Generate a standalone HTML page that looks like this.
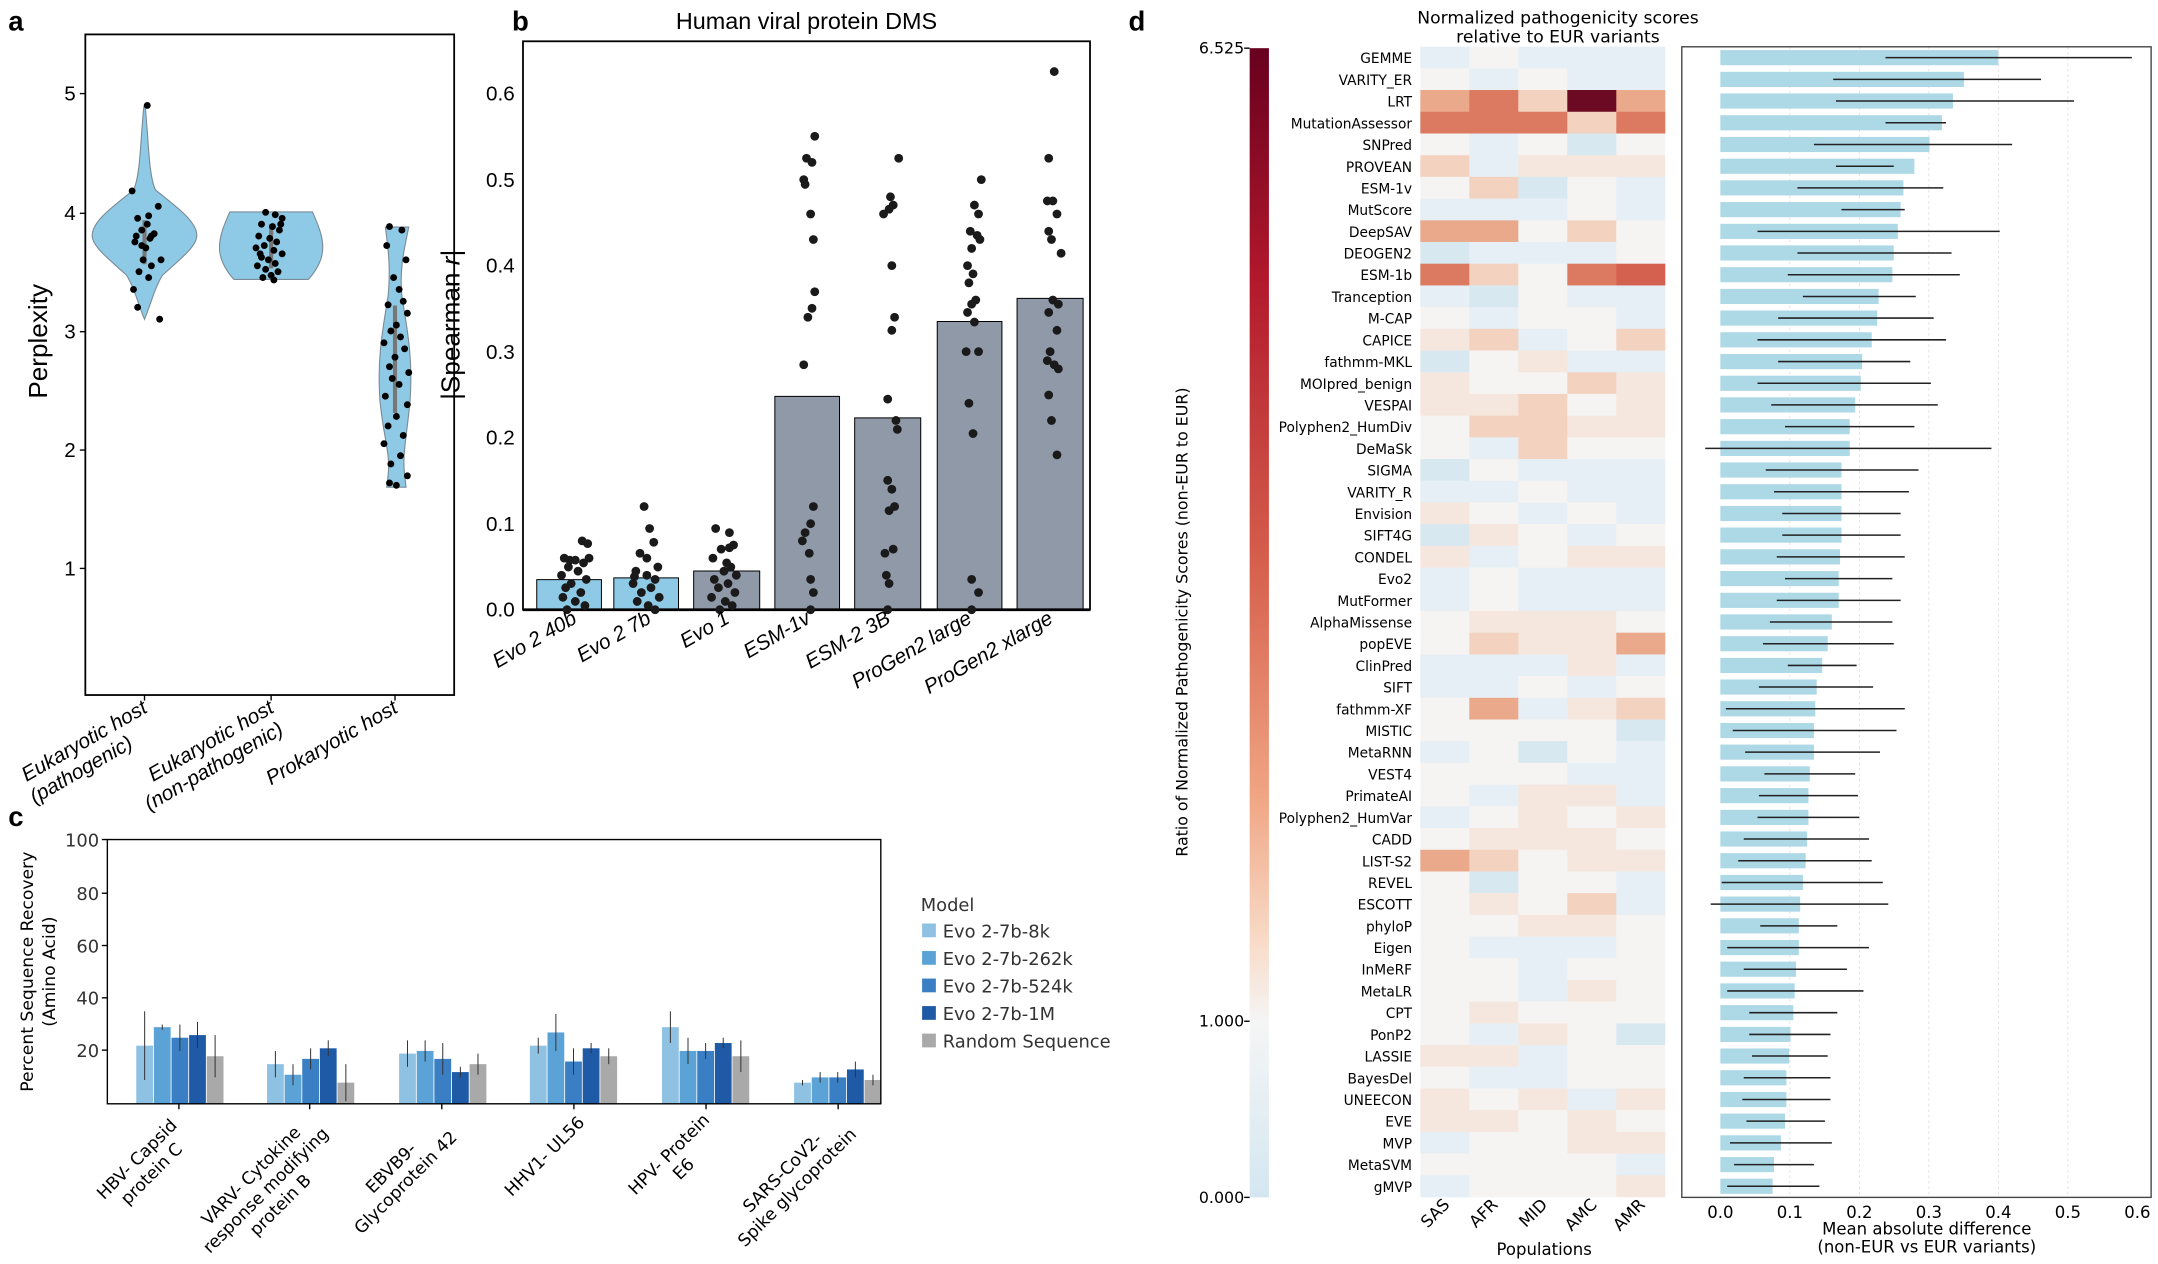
<!DOCTYPE html>
<html><head><meta charset="utf-8"><style>
html,body{margin:0;padding:0;background:#fff}
svg{display:block}
.nar{font-family:"Liberation Sans Narrow","Liberation Sans",sans-serif}
.dv{font-family:"DejaVu Sans","Liberation Sans",sans-serif}
.W{fill:#f6f4f3}.b1{fill:#e6eff5}.b2{fill:#d8e8f1}.o1{fill:#f6e7de}.o2{fill:#f3d2c0}.o3{fill:#eaa98b}.o4{fill:#db7a61}.R{fill:#6b0a22}.X{fill:#d4604f}
.hl text{font-size:10px;text-anchor:end}
.bar{fill:#add8e6}
.eb{stroke:#222;stroke-width:1.1}
</style></head><body>
<svg width="2158" height="1264" viewBox="0 0 1568 918.4" preserveAspectRatio="none" xmlns="http://www.w3.org/2000/svg">
<rect width="1568" height="918.4" fill="#fff"/>
<g font-family="Liberation Sans,sans-serif" font-weight="bold" font-size="20">
<text x="6" y="22">a</text><text x="372" y="22">b</text><text x="6" y="600">c</text><text x="820" y="22">d</text></g>

<!-- ===== Panel a ===== -->
<g class="nar">
<rect x="62" y="25" width="268" height="480" fill="none" stroke="#000" stroke-width="1.3"/>
<g font-size="15" text-anchor="end">
<text x="55" y="73">5</text><text x="55" y="160">4</text><text x="55" y="246">3</text><text x="55" y="332">2</text><text x="55" y="418">1</text></g>
<g stroke="#000"><line x1="58" y1="68" x2="62" y2="68"/><line x1="58" y1="155" x2="62" y2="155"/><line x1="58" y1="241" x2="62" y2="241"/><line x1="58" y1="327" x2="62" y2="327"/><line x1="58" y1="413" x2="62" y2="413"/>
<line x1="105" y1="505" x2="105" y2="509"/><line x1="197" y1="505" x2="197" y2="509"/><line x1="287" y1="505" x2="287" y2="509"/></g>
<text transform="translate(34,248) rotate(-90)" font-size="19" text-anchor="middle" font-family="Liberation Sans,sans-serif">Perplexity</text>
<g fill="#8ecae6" stroke="#7a8a96" stroke-width="0.8">
<path d="M105,232 C100,220 98,210 92,200 C75,185 67,178 67,171 C67,160 85,148 97,138 C101,130 102,110 103,95 C104,85 104,78 105,76 C106,78 106,85 107,95 C108,110 109,130 113,138 C125,148 143,160 143,171 C143,178 135,185 118,200 C112,210 110,220 105,232 Z"/>
<path d="M167,154 L227,154 C232,165 236,175 234,185 C232,195 224,203 224,203 L170,203 C170,203 162,195 160,185 C158,175 162,165 167,154 Z"/>
<path d="M280,165 L297,165 C294,180 290,195 292,215 C296,240 300,260 298,290 C296,315 292,330 294,345 L295,354 L281,354 L282,345 C284,330 278,315 276,290 C274,260 278,240 282,215 C284,195 282,180 280,165 Z"/>
</g>
<g stroke="#777" stroke-width="3"><line x1="105" y1="160" x2="105" y2="192"/><line x1="197" y1="163" x2="197" y2="195"/><line x1="287" y1="222" x2="287" y2="300"/></g>
<g fill="#000">
<circle cx="103" cy="167.2" r="2.5"/><circle cx="110" cy="171.5" r="2.5"/><circle cx="98" cy="175.8" r="2.5"/><circle cx="107" cy="162.9" r="2.5"/><circle cx="112" cy="169.8" r="2.5"/><circle cx="100" cy="158.6" r="2.5"/><circle cx="106" cy="180.1" r="2.5"/><circle cx="115" cy="149.9" r="2.5"/><circle cx="96" cy="138.7" r="2.5"/><circle cx="104" cy="188.8" r="2.5"/><circle cx="110" cy="193.1" r="2.5"/><circle cx="101" cy="197.4" r="2.5"/><circle cx="97" cy="210.3" r="2.5"/><circle cx="108" cy="201.7" r="2.5"/><circle cx="100" cy="223.3" r="2.5"/><circle cx="116" cy="231.9" r="2.5"/><circle cx="107" cy="76.6" r="2.5"/><circle cx="108" cy="156.8" r="2.5"/><circle cx="103" cy="178.4" r="2.5"/><circle cx="109" cy="173.2" r="2.5"/><circle cx="117" cy="188.8" r="2.5"/><circle cx="99" cy="171.5" r="2.5"/>
<circle cx="193" cy="154.3" r="2.5"/><circle cx="200" cy="156" r="2.5"/><circle cx="205" cy="158.6" r="2.5"/><circle cx="190" cy="162.9" r="2.5"/><circle cx="198" cy="164.6" r="2.5"/><circle cx="203" cy="167.2" r="2.5"/><circle cx="188" cy="171.5" r="2.5"/><circle cx="196" cy="173.2" r="2.5"/><circle cx="201" cy="175.8" r="2.5"/><circle cx="192" cy="178.4" r="2.5"/><circle cx="186" cy="180.1" r="2.5"/><circle cx="199" cy="181.9" r="2.5"/><circle cx="205" cy="184.4" r="2.5"/><circle cx="190" cy="187" r="2.5"/><circle cx="195" cy="188.8" r="2.5"/><circle cx="200" cy="191.4" r="2.5"/><circle cx="187" cy="193.1" r="2.5"/><circle cx="193" cy="195.7" r="2.5"/><circle cx="202" cy="197.4" r="2.5"/><circle cx="197" cy="200" r="2.5"/><circle cx="191" cy="201.7" r="2.5"/><circle cx="199" cy="203.4" r="2.5"/><circle cx="204" cy="162.9" r="2.5"/><circle cx="189" cy="184.4" r="2.5"/>
<circle cx="283" cy="164.6" r="2.5"/><circle cx="292" cy="167.2" r="2.5"/><circle cx="281" cy="178.4" r="2.5"/><circle cx="295" cy="188.8" r="2.5"/><circle cx="286" cy="201.7" r="2.5"/><circle cx="290" cy="210.3" r="2.5"/><circle cx="293" cy="218.9" r="2.5"/><circle cx="282" cy="221.5" r="2.5"/><circle cx="296" cy="227.6" r="2.5"/><circle cx="288" cy="236.2" r="2.5"/><circle cx="284" cy="240.5" r="2.5"/><circle cx="291" cy="244.8" r="2.5"/><circle cx="279" cy="249.1" r="2.5"/><circle cx="294" cy="253.4" r="2.5"/><circle cx="287" cy="259.5" r="2.5"/><circle cx="283" cy="266.4" r="2.5"/><circle cx="297" cy="270.7" r="2.5"/><circle cx="285" cy="275" r="2.5"/><circle cx="290" cy="279.3" r="2.5"/><circle cx="280" cy="287.9" r="2.5"/><circle cx="296" cy="294" r="2.5"/><circle cx="288" cy="302.6" r="2.5"/><circle cx="282" cy="309.5" r="2.5"/><circle cx="293" cy="316.4" r="2.5"/><circle cx="279" cy="322.4" r="2.5"/><circle cx="291" cy="331.1" r="2.5"/><circle cx="284" cy="337.1" r="2.5"/><circle cx="296" cy="345.7" r="2.5"/><circle cx="283" cy="350.9" r="2.5"/><circle cx="288" cy="352.6" r="2.5"/>
</g>
<g font-size="15" font-style="italic" font-family="Liberation Sans,sans-serif">
<text transform="translate(108,517) rotate(-30)" text-anchor="end"><tspan x="0" dy="0">Eukaryotic host</tspan><tspan x="-22" dy="17">(pathogenic)</tspan></text>
<text transform="translate(200,517) rotate(-30)" text-anchor="end"><tspan x="0" dy="0">Eukaryotic host</tspan><tspan x="-2" dy="17">(non-pathogenic)</tspan></text>
<text transform="translate(290,517) rotate(-30)" text-anchor="end">Prokaryotic host</text>
</g>
</g>

<!-- ===== Panel b ===== -->
<g class="nar">
<text x="586" y="21" font-size="17" text-anchor="middle" font-family="Liberation Sans,sans-serif">Human viral protein DMS</text>
<g transform="translate(0,443) scale(1,-625)" stroke="#000" stroke-width="1" >
<rect x="390" y="0" width="47" height="0.035" fill="#8ecae6" vector-effect="non-scaling-stroke"/>
<rect x="446" y="0" width="47" height="0.037" fill="#8ecae6" vector-effect="non-scaling-stroke"/>
<rect x="504" y="0" width="48" height="0.045" fill="#8f99a8" vector-effect="non-scaling-stroke"/>
<rect x="563" y="0" width="47" height="0.248" fill="#8f99a8" vector-effect="non-scaling-stroke"/>
<rect x="621" y="0" width="48" height="0.223" fill="#8f99a8" vector-effect="non-scaling-stroke"/>
<rect x="681" y="0" width="47" height="0.335" fill="#8f99a8" vector-effect="non-scaling-stroke"/>
<rect x="739" y="0" width="48" height="0.362" fill="#8f99a8" vector-effect="non-scaling-stroke"/>
</g>
<rect x="380" y="30" width="412" height="413" fill="none" stroke="#000" stroke-width="1.3"/>
<line x1="380" y1="443" x2="792" y2="443" stroke="#000" stroke-width="2"/>
<g font-size="15" text-anchor="end">
<text x="374" y="448">0.0</text><text x="374" y="386">0.1</text><text x="374" y="323">0.2</text><text x="374" y="261">0.3</text><text x="374" y="198">0.4</text><text x="374" y="136">0.5</text><text x="374" y="73">0.6</text></g>
<text transform="translate(334,236) rotate(-90)" font-size="19" text-anchor="middle" font-family="Liberation Sans,sans-serif">|Spearman <tspan font-style="italic">r</tspan>|</text>
<g transform="translate(0,443)" fill="#1a1a1a">
<circle cx="423" cy="-50" r="3.2"/><circle cx="427" cy="-48" r="3.2"/><circle cx="410" cy="-37.5" r="3.2"/><circle cx="418" cy="-36" r="3.2"/><circle cx="424" cy="-34" r="3.2"/><circle cx="413" cy="-31" r="3.2"/><circle cx="420" cy="-28" r="3.2"/><circle cx="408" cy="-25" r="3.2"/><circle cx="426" cy="-22" r="3.2"/><circle cx="415" cy="-19" r="3.2"/><circle cx="411" cy="-16" r="3.2"/><circle cx="422" cy="-12.5" r="3.2"/><circle cx="409" cy="-9" r="3.2"/><circle cx="418" cy="-6" r="3.2"/><circle cx="425" cy="-3" r="3.2"/><circle cx="412" cy="0" r="3.2"/><circle cx="414" cy="-36" r="3.2"/><circle cx="428" cy="-37.5" r="3.2"/>
<circle cx="468" cy="-75" r="3.2"/><circle cx="472" cy="-59" r="3.2"/><circle cx="475" cy="-49" r="3.2"/><circle cx="465" cy="-41" r="3.2"/><circle cx="478" cy="-31" r="3.2"/><circle cx="462" cy="-28" r="3.2"/><circle cx="470" cy="-25" r="3.2"/><circle cx="476" cy="-22" r="3.2"/><circle cx="460" cy="-19" r="3.2"/><circle cx="473" cy="-16" r="3.2"/><circle cx="466" cy="-12.5" r="3.2"/><circle cx="479" cy="-9" r="3.2"/><circle cx="463" cy="-6" r="3.2"/><circle cx="471" cy="-3" r="3.2"/><circle cx="476" cy="0" r="3.2"/><circle cx="470" cy="-37.5" r="3.2"/><circle cx="461" cy="-24" r="3.2"/>
<circle cx="520" cy="-59" r="3.2"/><circle cx="530" cy="-56" r="3.2"/><circle cx="533" cy="-47" r="3.2"/><circle cx="524" cy="-44" r="3.2"/><circle cx="518" cy="-37.5" r="3.2"/><circle cx="531" cy="-31" r="3.2"/><circle cx="526" cy="-28" r="3.2"/><circle cx="535" cy="-25" r="3.2"/><circle cx="519" cy="-22" r="3.2"/><circle cx="529" cy="-19" r="3.2"/><circle cx="522" cy="-16" r="3.2"/><circle cx="534" cy="-12.5" r="3.2"/><circle cx="517" cy="-9" r="3.2"/><circle cx="527" cy="-6" r="3.2"/><circle cx="532" cy="-3" r="3.2"/><circle cx="523" cy="0" r="3.2"/><circle cx="530" cy="-45" r="3.2"/><circle cx="528" cy="-34" r="3.2"/>
<circle cx="592" cy="-344" r="3.2"/><circle cx="586" cy="-328" r="3.2"/><circle cx="590" cy="-325" r="3.2"/><circle cx="584" cy="-312.5" r="3.2"/><circle cx="585" cy="-309" r="3.2"/><circle cx="589" cy="-287.5" r="3.2"/><circle cx="591" cy="-269" r="3.2"/><circle cx="592" cy="-231" r="3.2"/><circle cx="590" cy="-219" r="3.2"/><circle cx="587" cy="-212.5" r="3.2"/><circle cx="584" cy="-178" r="3.2"/><circle cx="591" cy="-75" r="3.2"/><circle cx="589" cy="-62.5" r="3.2"/><circle cx="585" cy="-56" r="3.2"/><circle cx="583" cy="-50" r="3.2"/><circle cx="588" cy="-41" r="3.2"/><circle cx="589" cy="-22" r="3.2"/><circle cx="591" cy="-12.5" r="3.2"/><circle cx="589" cy="0" r="3.2"/>
<circle cx="653" cy="-328" r="3.2"/><circle cx="647" cy="-300" r="3.2"/><circle cx="649" cy="-294" r="3.2"/><circle cx="646" cy="-291" r="3.2"/><circle cx="642" cy="-287.5" r="3.2"/><circle cx="648" cy="-250" r="3.2"/><circle cx="650" cy="-212.5" r="3.2"/><circle cx="648" cy="-203" r="3.2"/><circle cx="645" cy="-153" r="3.2"/><circle cx="651" cy="-137.5" r="3.2"/><circle cx="652" cy="-131" r="3.2"/><circle cx="645" cy="-94" r="3.2"/><circle cx="648" cy="-87.5" r="3.2"/><circle cx="650" cy="-75" r="3.2"/><circle cx="646" cy="-72" r="3.2"/><circle cx="649" cy="-44" r="3.2"/><circle cx="643" cy="-41" r="3.2"/><circle cx="644" cy="-25" r="3.2"/><circle cx="646" cy="-19" r="3.2"/><circle cx="645" cy="0" r="3.2"/>
<circle cx="713" cy="-312.5" r="3.2"/><circle cx="708" cy="-294" r="3.2"/><circle cx="711" cy="-287.5" r="3.2"/><circle cx="705" cy="-275" r="3.2"/><circle cx="710" cy="-272" r="3.2"/><circle cx="712" cy="-269" r="3.2"/><circle cx="706" cy="-262.5" r="3.2"/><circle cx="703" cy="-250" r="3.2"/><circle cx="707" cy="-244" r="3.2"/><circle cx="704" cy="-237.5" r="3.2"/><circle cx="709" cy="-225" r="3.2"/><circle cx="706" cy="-222" r="3.2"/><circle cx="703" cy="-216" r="3.2"/><circle cx="708" cy="-209" r="3.2"/><circle cx="702" cy="-187.5" r="3.2"/><circle cx="711" cy="-187.5" r="3.2"/><circle cx="704" cy="-150" r="3.2"/><circle cx="707" cy="-128" r="3.2"/><circle cx="706" cy="-22" r="3.2"/><circle cx="711" cy="-12.5" r="3.2"/><circle cx="706" cy="0" r="3.2"/>
<circle cx="766" cy="-391" r="3.2"/><circle cx="762" cy="-328" r="3.2"/><circle cx="761" cy="-297" r="3.2"/><circle cx="765" cy="-297" r="3.2"/><circle cx="768" cy="-287.5" r="3.2"/><circle cx="762" cy="-275" r="3.2"/><circle cx="764" cy="-269" r="3.2"/><circle cx="771" cy="-259" r="3.2"/><circle cx="765" cy="-225" r="3.2"/><circle cx="769" cy="-222" r="3.2"/><circle cx="762" cy="-216" r="3.2"/><circle cx="768" cy="-203" r="3.2"/><circle cx="763" cy="-187.5" r="3.2"/><circle cx="761" cy="-181" r="3.2"/><circle cx="766" cy="-178" r="3.2"/><circle cx="769" cy="-175" r="3.2"/><circle cx="762" cy="-156" r="3.2"/><circle cx="764" cy="-137.5" r="3.2"/><circle cx="768" cy="-112.5" r="3.2"/>
</g>
<g font-size="15" font-style="italic" font-family="Liberation Sans,sans-serif" text-anchor="end">
<text transform="translate(420,452) rotate(-30)">Evo 2 40b</text>
<text transform="translate(474,452) rotate(-30)">Evo 2 7b</text>
<text transform="translate(531,452) rotate(-30)">Evo 1</text>
<text transform="translate(590,452) rotate(-30)">ESM-1v</text>
<text transform="translate(648,452) rotate(-30)">ESM-2 3B</text>
<text transform="translate(707,452) rotate(-30)">ProGen2 large</text>
<text transform="translate(766,452) rotate(-30)">ProGen2 xlarge</text>
</g>
</g>

<!-- ===== Panel c ===== -->
<g class="dv">
<g transform="translate(0,802) scale(1,-1.92)">
<g stroke="none">
<rect x="99" y="0" width="12.2" height="22" fill="#8fc1e3"/><rect x="111.8" y="0" width="12.2" height="29" fill="#5ba3d6"/><rect x="124.6" y="0" width="12.2" height="25" fill="#3a7fc4"/><rect x="137.4" y="0" width="12.2" height="26" fill="#1f5aa6"/><rect x="150.2" y="0" width="12.2" height="18" fill="#a9a9a9"/>
<rect x="194" y="0" width="12.2" height="15" fill="#8fc1e3"/><rect x="206.8" y="0" width="12.2" height="11" fill="#5ba3d6"/><rect x="219.6" y="0" width="12.2" height="17" fill="#3a7fc4"/><rect x="232.4" y="0" width="12.2" height="21" fill="#1f5aa6"/><rect x="245.2" y="0" width="12.2" height="8" fill="#a9a9a9"/>
<rect x="290" y="0" width="12.2" height="19" fill="#8fc1e3"/><rect x="302.8" y="0" width="12.2" height="20" fill="#5ba3d6"/><rect x="315.6" y="0" width="12.2" height="17" fill="#3a7fc4"/><rect x="328.4" y="0" width="12.2" height="12" fill="#1f5aa6"/><rect x="341.2" y="0" width="12.2" height="15" fill="#a9a9a9"/>
<rect x="385" y="0" width="12.2" height="22" fill="#8fc1e3"/><rect x="397.8" y="0" width="12.2" height="27" fill="#5ba3d6"/><rect x="410.6" y="0" width="12.2" height="16" fill="#3a7fc4"/><rect x="423.4" y="0" width="12.2" height="21" fill="#1f5aa6"/><rect x="436.2" y="0" width="12.2" height="18" fill="#a9a9a9"/>
<rect x="481" y="0" width="12.2" height="29" fill="#8fc1e3"/><rect x="493.8" y="0" width="12.2" height="20" fill="#5ba3d6"/><rect x="506.6" y="0" width="12.2" height="20" fill="#3a7fc4"/><rect x="519.4" y="0" width="12.2" height="23" fill="#1f5aa6"/><rect x="532.2" y="0" width="12.2" height="18" fill="#a9a9a9"/>
<rect x="577" y="0" width="12.2" height="8" fill="#8fc1e3"/><rect x="589.8" y="0" width="12.2" height="10" fill="#5ba3d6"/><rect x="602.6" y="0" width="12.2" height="10" fill="#3a7fc4"/><rect x="615.4" y="0" width="12.2" height="13" fill="#1f5aa6"/><rect x="628.2" y="0" width="12.2" height="9" fill="#a9a9a9"/>
</g>
<g stroke="#333" stroke-width="1">
<line x1="105.1" y1="9" x2="105.1" y2="35" vector-effect="non-scaling-stroke"/><line x1="117.9" y1="28" x2="117.9" y2="30" vector-effect="non-scaling-stroke"/><line x1="130.7" y1="20" x2="130.7" y2="30" vector-effect="non-scaling-stroke"/><line x1="143.5" y1="21" x2="143.5" y2="31" vector-effect="non-scaling-stroke"/><line x1="156.3" y1="10" x2="156.3" y2="26" vector-effect="non-scaling-stroke"/>
<line x1="200.1" y1="10" x2="200.1" y2="20" vector-effect="non-scaling-stroke"/><line x1="212.9" y1="7" x2="212.9" y2="15" vector-effect="non-scaling-stroke"/><line x1="225.7" y1="13" x2="225.7" y2="21" vector-effect="non-scaling-stroke"/><line x1="238.5" y1="18" x2="238.5" y2="24" vector-effect="non-scaling-stroke"/><line x1="251.3" y1="1" x2="251.3" y2="15" vector-effect="non-scaling-stroke"/>
<line x1="296.1" y1="14" x2="296.1" y2="24" vector-effect="non-scaling-stroke"/><line x1="308.9" y1="16" x2="308.9" y2="24" vector-effect="non-scaling-stroke"/><line x1="321.7" y1="11" x2="321.7" y2="23" vector-effect="non-scaling-stroke"/><line x1="334.5" y1="10" x2="334.5" y2="14" vector-effect="non-scaling-stroke"/><line x1="347.3" y1="11" x2="347.3" y2="19" vector-effect="non-scaling-stroke"/>
<line x1="391.1" y1="19" x2="391.1" y2="25" vector-effect="non-scaling-stroke"/><line x1="403.9" y1="20" x2="403.9" y2="34" vector-effect="non-scaling-stroke"/><line x1="416.7" y1="11" x2="416.7" y2="21" vector-effect="non-scaling-stroke"/><line x1="429.5" y1="19" x2="429.5" y2="23" vector-effect="non-scaling-stroke"/><line x1="442.3" y1="15" x2="442.3" y2="21" vector-effect="non-scaling-stroke"/>
<line x1="487.1" y1="23" x2="487.1" y2="35" vector-effect="non-scaling-stroke"/><line x1="499.9" y1="15" x2="499.9" y2="25" vector-effect="non-scaling-stroke"/><line x1="512.7" y1="17" x2="512.7" y2="23" vector-effect="non-scaling-stroke"/><line x1="525.5" y1="21" x2="525.5" y2="25" vector-effect="non-scaling-stroke"/><line x1="538.3" y1="12" x2="538.3" y2="24" vector-effect="non-scaling-stroke"/>
<line x1="583.1" y1="7" x2="583.1" y2="9" vector-effect="non-scaling-stroke"/><line x1="595.9" y1="8" x2="595.9" y2="12" vector-effect="non-scaling-stroke"/><line x1="608.7" y1="8" x2="608.7" y2="12" vector-effect="non-scaling-stroke"/><line x1="621.5" y1="10" x2="621.5" y2="16" vector-effect="non-scaling-stroke"/><line x1="634.3" y1="7" x2="634.3" y2="11" vector-effect="non-scaling-stroke"/>
</g>
</g>
<rect x="78" y="610" width="562" height="192" fill="none" stroke="#000" stroke-width="1"/>
<g stroke="#000"><line x1="74" y1="610" x2="78" y2="610"/><line x1="74" y1="649" x2="78" y2="649"/><line x1="74" y1="687" x2="78" y2="687"/><line x1="74" y1="725" x2="78" y2="725"/><line x1="74" y1="763" x2="78" y2="763"/>
<line x1="130" y1="802" x2="130" y2="806"/><line x1="225" y1="802" x2="225" y2="806"/><line x1="321" y1="802" x2="321" y2="806"/><line x1="417" y1="802" x2="417" y2="806"/><line x1="513" y1="802" x2="513" y2="806"/><line x1="609" y1="802" x2="609" y2="806"/></g>
<g font-size="13" text-anchor="end" fill="#333"><text x="72" y="615">100</text><text x="72" y="654">80</text><text x="72" y="692">60</text><text x="72" y="730">40</text><text x="72" y="768">20</text></g>
<g font-size="12.5" text-anchor="middle"><text transform="translate(24,706) rotate(-90)">Percent Sequence Recovery</text><text transform="translate(40,706) rotate(-90)">(Amino Acid)</text></g>
<g font-size="12.5" text-anchor="middle">
<text transform="translate(130,812) rotate(-45)"><tspan x="-43" dy="4">HBV- Capsid</tspan><tspan x="-43" dy="15">protein C</tspan></text>
<text transform="translate(225,812) rotate(-45)"><tspan x="-60" dy="4">VARV- Cytokine</tspan><tspan x="-60" dy="15">response modifying</tspan><tspan x="-60" dy="15">protein B</tspan></text>
<text transform="translate(321,812) rotate(-45)"><tspan x="-52" dy="4">EBVB9-</tspan><tspan x="-52" dy="15">Glycoprotein 42</tspan></text>
<text transform="translate(417,812) rotate(-45)"><tspan x="-35" dy="9">HHV1- UL56</tspan></text>
<text transform="translate(513,812) rotate(-45)"><tspan x="-38" dy="4">HPV- Protein</tspan><tspan x="-38" dy="15">E6</tspan></text>
<text transform="translate(609,812) rotate(-45)"><tspan x="-57" dy="4">SARS-CoV2-</tspan><tspan x="-57" dy="15">Spike glycoprotein</tspan></text>
</g>
<g font-size="13" fill="#333">
<text x="669" y="662">Model</text>
<rect x="670" y="671" width="10" height="10" fill="#8fc1e3"/><text x="685" y="681">Evo 2-7b-8k</text>
<rect x="670" y="691" width="10" height="10" fill="#5ba3d6"/><text x="685" y="701">Evo 2-7b-262k</text>
<rect x="670" y="711" width="10" height="10" fill="#3a7fc4"/><text x="685" y="721">Evo 2-7b-524k</text>
<rect x="670" y="731" width="10" height="10" fill="#1f5aa6"/><text x="685" y="741">Evo 2-7b-1M</text>
<rect x="670" y="751" width="10" height="10" fill="#a9a9a9"/><text x="685" y="761">Random Sequence</text>
</g>
</g>

<!-- ===== Panel d ===== -->
<defs><linearGradient id="cb" x1="0" y1="0" x2="0" y2="1">
<stop offset="0" stop-color="#67001f"/><stop offset="0.2" stop-color="#b2182b"/><stop offset="0.45" stop-color="#d6604d"/><stop offset="0.65" stop-color="#f0a583"/><stop offset="0.78" stop-color="#f8dcc9"/><stop offset="0.847" stop-color="#f5f5f5"/><stop offset="1" stop-color="#d4e7f1"/></linearGradient></defs>
<g class="dv">
<text x="1132" y="17" font-size="12.5" text-anchor="middle">Normalized pathogenicity scores</text>
<text x="1132" y="31" font-size="12.5" text-anchor="middle">relative to EUR variants</text>
<rect x="908" y="35" width="14" height="835" fill="url(#cb)"/>
<g font-size="11.5" text-anchor="end"><text x="904" y="39">6.525</text><text x="904" y="746">1.000</text><text x="904" y="874">0.000</text></g>
<g stroke="#000"><line x1="904" y1="35" x2="908" y2="35"/><line x1="904" y1="742" x2="908" y2="742"/><line x1="904" y1="870" x2="908" y2="870"/></g>
<text transform="translate(863,452) rotate(-90)" font-size="11.5" text-anchor="middle">Ratio of Normalized Pathogenicity Scores (non-EUR to EUR)</text>
<g stroke="#ddd" stroke-dasharray="2,2" stroke-width="0.6"><line x1="1300.5" y1="34" x2="1300.5" y2="870"/><line x1="1351" y1="34" x2="1351" y2="870"/><line x1="1401.5" y1="34" x2="1401.5" y2="870"/><line x1="1452" y1="34" x2="1452" y2="870"/><line x1="1502.5" y1="34" x2="1502.5" y2="870"/></g>
<rect x="1222" y="34" width="341" height="836" fill="none" stroke="#444" stroke-width="1"/>
<g font-size="12" text-anchor="middle"><text x="1250" y="885">0.0</text><text x="1300.5" y="885">0.1</text><text x="1351" y="885">0.2</text><text x="1401.5" y="885">0.3</text><text x="1452" y="885">0.4</text><text x="1502.5" y="885">0.5</text><text x="1553" y="885">0.6</text>
<text x="1400" y="897">Mean absolute difference</text><text x="1400" y="910">(non-EUR vs EUR variants)</text></g>
<g font-size="12" text-anchor="end">
<text transform="translate(1054,876) rotate(-45)">SAS</text><text transform="translate(1089,876) rotate(-45)">AFR</text><text transform="translate(1125,876) rotate(-45)">MID</text><text transform="translate(1161,876) rotate(-45)">AMC</text><text transform="translate(1196,876) rotate(-45)">AMR</text></g>
<text x="1122" y="912" font-size="12" text-anchor="middle">Populations</text>

<g class="hl">
<g transform="translate(0,41.9)"><text x="1026" y="4">GEMME</text><rect x="1032" y="-8" width="36" height="16" class="b1"/><rect x="1067.6" y="-8" width="36" height="16" class="W"/><rect x="1103.2" y="-8" width="36" height="16" class="b1"/><rect x="1138.8" y="-8" width="36" height="16" class="b1"/><rect x="1174.4" y="-8" width="35.6" height="16" class="b1"/><rect x="1250" y="-5.5" width="202" height="11" class="bar"/><line x1="1370" x2="1549" class="eb"/></g>
<g transform="translate(0,57.7)"><text x="1026" y="4">VARITY_ER</text><rect x="1032" y="-8" width="36" height="16" class="W"/><rect x="1067.6" y="-8" width="36" height="16" class="b1"/><rect x="1103.2" y="-8" width="36" height="16" class="W"/><rect x="1138.8" y="-8" width="36" height="16" class="b1"/><rect x="1174.4" y="-8" width="35.6" height="16" class="b1"/><rect x="1250" y="-5.5" width="177" height="11" class="bar"/><line x1="1332" x2="1483" class="eb"/></g>
<g transform="translate(0,73.4)"><text x="1026" y="4">LRT</text><rect x="1032" y="-8" width="36" height="16" class="o3"/><rect x="1067.6" y="-8" width="36" height="16" class="o4"/><rect x="1103.2" y="-8" width="36" height="16" class="o2"/><rect x="1138.8" y="-8" width="36" height="16" class="R"/><rect x="1174.4" y="-8" width="35.6" height="16" class="o3"/><rect x="1250" y="-5.5" width="169" height="11" class="bar"/><line x1="1334" x2="1507" class="eb"/></g>
<g transform="translate(0,89.2)"><text x="1026" y="4">MutationAssessor</text><rect x="1032" y="-8" width="36" height="16" class="o4"/><rect x="1067.6" y="-8" width="36" height="16" class="o4"/><rect x="1103.2" y="-8" width="36" height="16" class="o4"/><rect x="1138.8" y="-8" width="36" height="16" class="o2"/><rect x="1174.4" y="-8" width="35.6" height="16" class="o4"/><rect x="1250" y="-5.5" width="161" height="11" class="bar"/><line x1="1370" x2="1414" class="eb"/></g>
<g transform="translate(0,105.0)"><text x="1026" y="4">SNPred</text><rect x="1032" y="-8" width="36" height="16" class="W"/><rect x="1067.6" y="-8" width="36" height="16" class="b1"/><rect x="1103.2" y="-8" width="36" height="16" class="W"/><rect x="1138.8" y="-8" width="36" height="16" class="b2"/><rect x="1174.4" y="-8" width="35.6" height="16" class="W"/><rect x="1250" y="-5.5" width="152" height="11" class="bar"/><line x1="1318" x2="1462" class="eb"/></g>
<g transform="translate(0,120.8)"><text x="1026" y="4">PROVEAN</text><rect x="1032" y="-8" width="36" height="16" class="o2"/><rect x="1067.6" y="-8" width="36" height="16" class="b1"/><rect x="1103.2" y="-8" width="36" height="16" class="o1"/><rect x="1138.8" y="-8" width="36" height="16" class="o1"/><rect x="1174.4" y="-8" width="35.6" height="16" class="o1"/><rect x="1250" y="-5.5" width="141" height="11" class="bar"/><line x1="1334" x2="1376" class="eb"/></g>
<g transform="translate(0,136.5)"><text x="1026" y="4">ESM-1v</text><rect x="1032" y="-8" width="36" height="16" class="W"/><rect x="1067.6" y="-8" width="36" height="16" class="o2"/><rect x="1103.2" y="-8" width="36" height="16" class="b2"/><rect x="1138.8" y="-8" width="36" height="16" class="W"/><rect x="1174.4" y="-8" width="35.6" height="16" class="b1"/><rect x="1250" y="-5.5" width="133" height="11" class="bar"/><line x1="1306" x2="1412" class="eb"/></g>
<g transform="translate(0,152.3)"><text x="1026" y="4">MutScore</text><rect x="1032" y="-8" width="36" height="16" class="b1"/><rect x="1067.6" y="-8" width="36" height="16" class="b1"/><rect x="1103.2" y="-8" width="36" height="16" class="b1"/><rect x="1138.8" y="-8" width="36" height="16" class="W"/><rect x="1174.4" y="-8" width="35.6" height="16" class="b1"/><rect x="1250" y="-5.5" width="131" height="11" class="bar"/><line x1="1338" x2="1384" class="eb"/></g>
<g transform="translate(0,168.1)"><text x="1026" y="4">DeepSAV</text><rect x="1032" y="-8" width="36" height="16" class="o3"/><rect x="1067.6" y="-8" width="36" height="16" class="o3"/><rect x="1103.2" y="-8" width="36" height="16" class="W"/><rect x="1138.8" y="-8" width="36" height="16" class="o2"/><rect x="1174.4" y="-8" width="35.6" height="16" class="W"/><rect x="1250" y="-5.5" width="129" height="11" class="bar"/><line x1="1277" x2="1453" class="eb"/></g>
<g transform="translate(0,183.8)"><text x="1026" y="4">DEOGEN2</text><rect x="1032" y="-8" width="36" height="16" class="b2"/><rect x="1067.6" y="-8" width="36" height="16" class="b1"/><rect x="1103.2" y="-8" width="36" height="16" class="b1"/><rect x="1138.8" y="-8" width="36" height="16" class="b1"/><rect x="1174.4" y="-8" width="35.6" height="16" class="W"/><rect x="1250" y="-5.5" width="126" height="11" class="bar"/><line x1="1306" x2="1418" class="eb"/></g>
<g transform="translate(0,199.6)"><text x="1026" y="4">ESM-1b</text><rect x="1032" y="-8" width="36" height="16" class="o4"/><rect x="1067.6" y="-8" width="36" height="16" class="o2"/><rect x="1103.2" y="-8" width="36" height="16" class="W"/><rect x="1138.8" y="-8" width="36" height="16" class="o4"/><rect x="1174.4" y="-8" width="35.6" height="16" class="X"/><rect x="1250" y="-5.5" width="125" height="11" class="bar"/><line x1="1299" x2="1424" class="eb"/></g>
<g transform="translate(0,215.4)"><text x="1026" y="4">Tranception</text><rect x="1032" y="-8" width="36" height="16" class="b1"/><rect x="1067.6" y="-8" width="36" height="16" class="b2"/><rect x="1103.2" y="-8" width="36" height="16" class="W"/><rect x="1138.8" y="-8" width="36" height="16" class="b1"/><rect x="1174.4" y="-8" width="35.6" height="16" class="b1"/><rect x="1250" y="-5.5" width="115" height="11" class="bar"/><line x1="1310" x2="1392" class="eb"/></g>
<g transform="translate(0,231.1)"><text x="1026" y="4">M-CAP</text><rect x="1032" y="-8" width="36" height="16" class="W"/><rect x="1067.6" y="-8" width="36" height="16" class="b1"/><rect x="1103.2" y="-8" width="36" height="16" class="W"/><rect x="1138.8" y="-8" width="36" height="16" class="W"/><rect x="1174.4" y="-8" width="35.6" height="16" class="b1"/><rect x="1250" y="-5.5" width="114" height="11" class="bar"/><line x1="1292" x2="1405" class="eb"/></g>
<g transform="translate(0,246.9)"><text x="1026" y="4">CAPICE</text><rect x="1032" y="-8" width="36" height="16" class="o1"/><rect x="1067.6" y="-8" width="36" height="16" class="o2"/><rect x="1103.2" y="-8" width="36" height="16" class="b1"/><rect x="1138.8" y="-8" width="36" height="16" class="W"/><rect x="1174.4" y="-8" width="35.6" height="16" class="o2"/><rect x="1250" y="-5.5" width="110" height="11" class="bar"/><line x1="1277" x2="1414" class="eb"/></g>
<g transform="translate(0,262.7)"><text x="1026" y="4">fathmm-MKL</text><rect x="1032" y="-8" width="36" height="16" class="b2"/><rect x="1067.6" y="-8" width="36" height="16" class="W"/><rect x="1103.2" y="-8" width="36" height="16" class="o1"/><rect x="1138.8" y="-8" width="36" height="16" class="b1"/><rect x="1174.4" y="-8" width="35.6" height="16" class="b1"/><rect x="1250" y="-5.5" width="103" height="11" class="bar"/><line x1="1292" x2="1388" class="eb"/></g>
<g transform="translate(0,278.5)"><text x="1026" y="4">MOIpred_benign</text><rect x="1032" y="-8" width="36" height="16" class="o1"/><rect x="1067.6" y="-8" width="36" height="16" class="W"/><rect x="1103.2" y="-8" width="36" height="16" class="W"/><rect x="1138.8" y="-8" width="36" height="16" class="o2"/><rect x="1174.4" y="-8" width="35.6" height="16" class="o1"/><rect x="1250" y="-5.5" width="102" height="11" class="bar"/><line x1="1277" x2="1403" class="eb"/></g>
<g transform="translate(0,294.2)"><text x="1026" y="4">VESPAI</text><rect x="1032" y="-8" width="36" height="16" class="o1"/><rect x="1067.6" y="-8" width="36" height="16" class="o1"/><rect x="1103.2" y="-8" width="36" height="16" class="o2"/><rect x="1138.8" y="-8" width="36" height="16" class="W"/><rect x="1174.4" y="-8" width="35.6" height="16" class="o1"/><rect x="1250" y="-5.5" width="98" height="11" class="bar"/><line x1="1287" x2="1408" class="eb"/></g>
<g transform="translate(0,310.0)"><text x="1026" y="4">Polyphen2_HumDiv</text><rect x="1032" y="-8" width="36" height="16" class="W"/><rect x="1067.6" y="-8" width="36" height="16" class="o2"/><rect x="1103.2" y="-8" width="36" height="16" class="o2"/><rect x="1138.8" y="-8" width="36" height="16" class="o1"/><rect x="1174.4" y="-8" width="35.6" height="16" class="o1"/><rect x="1250" y="-5.5" width="94" height="11" class="bar"/><line x1="1297" x2="1391" class="eb"/></g>
<g transform="translate(0,325.8)"><text x="1026" y="4">DeMaSk</text><rect x="1032" y="-8" width="36" height="16" class="W"/><rect x="1067.6" y="-8" width="36" height="16" class="b1"/><rect x="1103.2" y="-8" width="36" height="16" class="o2"/><rect x="1138.8" y="-8" width="36" height="16" class="W"/><rect x="1174.4" y="-8" width="35.6" height="16" class="W"/><rect x="1250" y="-5.5" width="94" height="11" class="bar"/><line x1="1239" x2="1447" class="eb"/></g>
<g transform="translate(0,341.5)"><text x="1026" y="4">SIGMA</text><rect x="1032" y="-8" width="36" height="16" class="b2"/><rect x="1067.6" y="-8" width="36" height="16" class="W"/><rect x="1103.2" y="-8" width="36" height="16" class="b1"/><rect x="1138.8" y="-8" width="36" height="16" class="b1"/><rect x="1174.4" y="-8" width="35.6" height="16" class="b1"/><rect x="1250" y="-5.5" width="88" height="11" class="bar"/><line x1="1283" x2="1394" class="eb"/></g>
<g transform="translate(0,357.3)"><text x="1026" y="4">VARITY_R</text><rect x="1032" y="-8" width="36" height="16" class="b1"/><rect x="1067.6" y="-8" width="36" height="16" class="b1"/><rect x="1103.2" y="-8" width="36" height="16" class="W"/><rect x="1138.8" y="-8" width="36" height="16" class="b1"/><rect x="1174.4" y="-8" width="35.6" height="16" class="b1"/><rect x="1250" y="-5.5" width="88" height="11" class="bar"/><line x1="1289" x2="1387" class="eb"/></g>
<g transform="translate(0,373.1)"><text x="1026" y="4">Envision</text><rect x="1032" y="-8" width="36" height="16" class="o1"/><rect x="1067.6" y="-8" width="36" height="16" class="W"/><rect x="1103.2" y="-8" width="36" height="16" class="b1"/><rect x="1138.8" y="-8" width="36" height="16" class="W"/><rect x="1174.4" y="-8" width="35.6" height="16" class="b1"/><rect x="1250" y="-5.5" width="88" height="11" class="bar"/><line x1="1295" x2="1381" class="eb"/></g>
<g transform="translate(0,388.8)"><text x="1026" y="4">SIFT4G</text><rect x="1032" y="-8" width="36" height="16" class="b2"/><rect x="1067.6" y="-8" width="36" height="16" class="o1"/><rect x="1103.2" y="-8" width="36" height="16" class="W"/><rect x="1138.8" y="-8" width="36" height="16" class="b1"/><rect x="1174.4" y="-8" width="35.6" height="16" class="W"/><rect x="1250" y="-5.5" width="88" height="11" class="bar"/><line x1="1295" x2="1381" class="eb"/></g>
<g transform="translate(0,404.6)"><text x="1026" y="4">CONDEL</text><rect x="1032" y="-8" width="36" height="16" class="o1"/><rect x="1067.6" y="-8" width="36" height="16" class="b1"/><rect x="1103.2" y="-8" width="36" height="16" class="W"/><rect x="1138.8" y="-8" width="36" height="16" class="o1"/><rect x="1174.4" y="-8" width="35.6" height="16" class="o1"/><rect x="1250" y="-5.5" width="87" height="11" class="bar"/><line x1="1291" x2="1384" class="eb"/></g>
<g transform="translate(0,420.4)"><text x="1026" y="4">Evo2</text><rect x="1032" y="-8" width="36" height="16" class="b1"/><rect x="1067.6" y="-8" width="36" height="16" class="W"/><rect x="1103.2" y="-8" width="36" height="16" class="b1"/><rect x="1138.8" y="-8" width="36" height="16" class="b1"/><rect x="1174.4" y="-8" width="35.6" height="16" class="b1"/><rect x="1250" y="-5.5" width="86" height="11" class="bar"/><line x1="1297" x2="1375" class="eb"/></g>
<g transform="translate(0,436.2)"><text x="1026" y="4">MutFormer</text><rect x="1032" y="-8" width="36" height="16" class="b1"/><rect x="1067.6" y="-8" width="36" height="16" class="W"/><rect x="1103.2" y="-8" width="36" height="16" class="b1"/><rect x="1138.8" y="-8" width="36" height="16" class="b1"/><rect x="1174.4" y="-8" width="35.6" height="16" class="b1"/><rect x="1250" y="-5.5" width="86" height="11" class="bar"/><line x1="1291" x2="1381" class="eb"/></g>
<g transform="translate(0,451.9)"><text x="1026" y="4">AlphaMissense</text><rect x="1032" y="-8" width="36" height="16" class="W"/><rect x="1067.6" y="-8" width="36" height="16" class="o1"/><rect x="1103.2" y="-8" width="36" height="16" class="o1"/><rect x="1138.8" y="-8" width="36" height="16" class="o1"/><rect x="1174.4" y="-8" width="35.6" height="16" class="W"/><rect x="1250" y="-5.5" width="81" height="11" class="bar"/><line x1="1286" x2="1375" class="eb"/></g>
<g transform="translate(0,467.7)"><text x="1026" y="4">popEVE</text><rect x="1032" y="-8" width="36" height="16" class="W"/><rect x="1067.6" y="-8" width="36" height="16" class="o2"/><rect x="1103.2" y="-8" width="36" height="16" class="o1"/><rect x="1138.8" y="-8" width="36" height="16" class="o1"/><rect x="1174.4" y="-8" width="35.6" height="16" class="o3"/><rect x="1250" y="-5.5" width="78" height="11" class="bar"/><line x1="1281" x2="1376" class="eb"/></g>
<g transform="translate(0,483.5)"><text x="1026" y="4">ClinPred</text><rect x="1032" y="-8" width="36" height="16" class="b1"/><rect x="1067.6" y="-8" width="36" height="16" class="b1"/><rect x="1103.2" y="-8" width="36" height="16" class="b1"/><rect x="1138.8" y="-8" width="36" height="16" class="o1"/><rect x="1174.4" y="-8" width="35.6" height="16" class="b1"/><rect x="1250" y="-5.5" width="74" height="11" class="bar"/><line x1="1299" x2="1349" class="eb"/></g>
<g transform="translate(0,499.2)"><text x="1026" y="4">SIFT</text><rect x="1032" y="-8" width="36" height="16" class="b1"/><rect x="1067.6" y="-8" width="36" height="16" class="b1"/><rect x="1103.2" y="-8" width="36" height="16" class="W"/><rect x="1138.8" y="-8" width="36" height="16" class="b1"/><rect x="1174.4" y="-8" width="35.6" height="16" class="W"/><rect x="1250" y="-5.5" width="70" height="11" class="bar"/><line x1="1278" x2="1361" class="eb"/></g>
<g transform="translate(0,515.0)"><text x="1026" y="4">fathmm-XF</text><rect x="1032" y="-8" width="36" height="16" class="W"/><rect x="1067.6" y="-8" width="36" height="16" class="o3"/><rect x="1103.2" y="-8" width="36" height="16" class="b1"/><rect x="1138.8" y="-8" width="36" height="16" class="o1"/><rect x="1174.4" y="-8" width="35.6" height="16" class="o2"/><rect x="1250" y="-5.5" width="69" height="11" class="bar"/><line x1="1254" x2="1384" class="eb"/></g>
<g transform="translate(0,530.8)"><text x="1026" y="4">MISTIC</text><rect x="1032" y="-8" width="36" height="16" class="W"/><rect x="1067.6" y="-8" width="36" height="16" class="W"/><rect x="1103.2" y="-8" width="36" height="16" class="W"/><rect x="1138.8" y="-8" width="36" height="16" class="W"/><rect x="1174.4" y="-8" width="35.6" height="16" class="b2"/><rect x="1250" y="-5.5" width="68" height="11" class="bar"/><line x1="1259" x2="1378" class="eb"/></g>
<g transform="translate(0,546.5)"><text x="1026" y="4">MetaRNN</text><rect x="1032" y="-8" width="36" height="16" class="b1"/><rect x="1067.6" y="-8" width="36" height="16" class="W"/><rect x="1103.2" y="-8" width="36" height="16" class="b2"/><rect x="1138.8" y="-8" width="36" height="16" class="W"/><rect x="1174.4" y="-8" width="35.6" height="16" class="b1"/><rect x="1250" y="-5.5" width="68" height="11" class="bar"/><line x1="1268" x2="1366" class="eb"/></g>
<g transform="translate(0,562.3)"><text x="1026" y="4">VEST4</text><rect x="1032" y="-8" width="36" height="16" class="W"/><rect x="1067.6" y="-8" width="36" height="16" class="W"/><rect x="1103.2" y="-8" width="36" height="16" class="W"/><rect x="1138.8" y="-8" width="36" height="16" class="b1"/><rect x="1174.4" y="-8" width="35.6" height="16" class="b1"/><rect x="1250" y="-5.5" width="65" height="11" class="bar"/><line x1="1282" x2="1348" class="eb"/></g>
<g transform="translate(0,578.1)"><text x="1026" y="4">PrimateAI</text><rect x="1032" y="-8" width="36" height="16" class="W"/><rect x="1067.6" y="-8" width="36" height="16" class="b1"/><rect x="1103.2" y="-8" width="36" height="16" class="o1"/><rect x="1138.8" y="-8" width="36" height="16" class="o1"/><rect x="1174.4" y="-8" width="35.6" height="16" class="b1"/><rect x="1250" y="-5.5" width="64" height="11" class="bar"/><line x1="1278" x2="1350" class="eb"/></g>
<g transform="translate(0,593.9)"><text x="1026" y="4">Polyphen2_HumVar</text><rect x="1032" y="-8" width="36" height="16" class="b1"/><rect x="1067.6" y="-8" width="36" height="16" class="W"/><rect x="1103.2" y="-8" width="36" height="16" class="o1"/><rect x="1138.8" y="-8" width="36" height="16" class="W"/><rect x="1174.4" y="-8" width="35.6" height="16" class="o1"/><rect x="1250" y="-5.5" width="64" height="11" class="bar"/><line x1="1277" x2="1351" class="eb"/></g>
<g transform="translate(0,609.6)"><text x="1026" y="4">CADD</text><rect x="1032" y="-8" width="36" height="16" class="W"/><rect x="1067.6" y="-8" width="36" height="16" class="o1"/><rect x="1103.2" y="-8" width="36" height="16" class="o1"/><rect x="1138.8" y="-8" width="36" height="16" class="o1"/><rect x="1174.4" y="-8" width="35.6" height="16" class="W"/><rect x="1250" y="-5.5" width="63" height="11" class="bar"/><line x1="1267" x2="1358" class="eb"/></g>
<g transform="translate(0,625.4)"><text x="1026" y="4">LIST-S2</text><rect x="1032" y="-8" width="36" height="16" class="o3"/><rect x="1067.6" y="-8" width="36" height="16" class="o2"/><rect x="1103.2" y="-8" width="36" height="16" class="W"/><rect x="1138.8" y="-8" width="36" height="16" class="o1"/><rect x="1174.4" y="-8" width="35.6" height="16" class="o1"/><rect x="1250" y="-5.5" width="62" height="11" class="bar"/><line x1="1263" x2="1360" class="eb"/></g>
<g transform="translate(0,641.2)"><text x="1026" y="4">REVEL</text><rect x="1032" y="-8" width="36" height="16" class="W"/><rect x="1067.6" y="-8" width="36" height="16" class="b2"/><rect x="1103.2" y="-8" width="36" height="16" class="W"/><rect x="1138.8" y="-8" width="36" height="16" class="W"/><rect x="1174.4" y="-8" width="35.6" height="16" class="b1"/><rect x="1250" y="-5.5" width="60" height="11" class="bar"/><line x1="1251" x2="1368" class="eb"/></g>
<g transform="translate(0,656.9)"><text x="1026" y="4">ESCOTT</text><rect x="1032" y="-8" width="36" height="16" class="W"/><rect x="1067.6" y="-8" width="36" height="16" class="o1"/><rect x="1103.2" y="-8" width="36" height="16" class="W"/><rect x="1138.8" y="-8" width="36" height="16" class="o2"/><rect x="1174.4" y="-8" width="35.6" height="16" class="b1"/><rect x="1250" y="-5.5" width="58" height="11" class="bar"/><line x1="1243" x2="1372" class="eb"/></g>
<g transform="translate(0,672.7)"><text x="1026" y="4">phyloP</text><rect x="1032" y="-8" width="36" height="16" class="W"/><rect x="1067.6" y="-8" width="36" height="16" class="W"/><rect x="1103.2" y="-8" width="36" height="16" class="o1"/><rect x="1138.8" y="-8" width="36" height="16" class="o1"/><rect x="1174.4" y="-8" width="35.6" height="16" class="W"/><rect x="1250" y="-5.5" width="57" height="11" class="bar"/><line x1="1279" x2="1335" class="eb"/></g>
<g transform="translate(0,688.5)"><text x="1026" y="4">Eigen</text><rect x="1032" y="-8" width="36" height="16" class="W"/><rect x="1067.6" y="-8" width="36" height="16" class="b1"/><rect x="1103.2" y="-8" width="36" height="16" class="b1"/><rect x="1138.8" y="-8" width="36" height="16" class="b1"/><rect x="1174.4" y="-8" width="35.6" height="16" class="W"/><rect x="1250" y="-5.5" width="57" height="11" class="bar"/><line x1="1255" x2="1358" class="eb"/></g>
<g transform="translate(0,704.2)"><text x="1026" y="4">InMeRF</text><rect x="1032" y="-8" width="36" height="16" class="W"/><rect x="1067.6" y="-8" width="36" height="16" class="W"/><rect x="1103.2" y="-8" width="36" height="16" class="b1"/><rect x="1138.8" y="-8" width="36" height="16" class="W"/><rect x="1174.4" y="-8" width="35.6" height="16" class="W"/><rect x="1250" y="-5.5" width="55" height="11" class="bar"/><line x1="1267" x2="1342" class="eb"/></g>
<g transform="translate(0,720.0)"><text x="1026" y="4">MetaLR</text><rect x="1032" y="-8" width="36" height="16" class="W"/><rect x="1067.6" y="-8" width="36" height="16" class="W"/><rect x="1103.2" y="-8" width="36" height="16" class="b1"/><rect x="1138.8" y="-8" width="36" height="16" class="o1"/><rect x="1174.4" y="-8" width="35.6" height="16" class="W"/><rect x="1250" y="-5.5" width="54" height="11" class="bar"/><line x1="1255" x2="1354" class="eb"/></g>
<g transform="translate(0,735.8)"><text x="1026" y="4">CPT</text><rect x="1032" y="-8" width="36" height="16" class="W"/><rect x="1067.6" y="-8" width="36" height="16" class="o1"/><rect x="1103.2" y="-8" width="36" height="16" class="W"/><rect x="1138.8" y="-8" width="36" height="16" class="W"/><rect x="1174.4" y="-8" width="35.6" height="16" class="W"/><rect x="1250" y="-5.5" width="53" height="11" class="bar"/><line x1="1271" x2="1335" class="eb"/></g>
<g transform="translate(0,751.6)"><text x="1026" y="4">PonP2</text><rect x="1032" y="-8" width="36" height="16" class="W"/><rect x="1067.6" y="-8" width="36" height="16" class="b1"/><rect x="1103.2" y="-8" width="36" height="16" class="o1"/><rect x="1138.8" y="-8" width="36" height="16" class="W"/><rect x="1174.4" y="-8" width="35.6" height="16" class="b2"/><rect x="1250" y="-5.5" width="51" height="11" class="bar"/><line x1="1271" x2="1330" class="eb"/></g>
<g transform="translate(0,767.3)"><text x="1026" y="4">LASSIE</text><rect x="1032" y="-8" width="36" height="16" class="o1"/><rect x="1067.6" y="-8" width="36" height="16" class="o1"/><rect x="1103.2" y="-8" width="36" height="16" class="b1"/><rect x="1138.8" y="-8" width="36" height="16" class="W"/><rect x="1174.4" y="-8" width="35.6" height="16" class="W"/><rect x="1250" y="-5.5" width="50" height="11" class="bar"/><line x1="1273" x2="1328" class="eb"/></g>
<g transform="translate(0,783.1)"><text x="1026" y="4">BayesDel</text><rect x="1032" y="-8" width="36" height="16" class="W"/><rect x="1067.6" y="-8" width="36" height="16" class="b1"/><rect x="1103.2" y="-8" width="36" height="16" class="b1"/><rect x="1138.8" y="-8" width="36" height="16" class="W"/><rect x="1174.4" y="-8" width="35.6" height="16" class="W"/><rect x="1250" y="-5.5" width="48" height="11" class="bar"/><line x1="1267" x2="1330" class="eb"/></g>
<g transform="translate(0,798.9)"><text x="1026" y="4">UNEECON</text><rect x="1032" y="-8" width="36" height="16" class="o1"/><rect x="1067.6" y="-8" width="36" height="16" class="W"/><rect x="1103.2" y="-8" width="36" height="16" class="o1"/><rect x="1138.8" y="-8" width="36" height="16" class="b1"/><rect x="1174.4" y="-8" width="35.6" height="16" class="o1"/><rect x="1250" y="-5.5" width="48" height="11" class="bar"/><line x1="1266" x2="1330" class="eb"/></g>
<g transform="translate(0,814.6)"><text x="1026" y="4">EVE</text><rect x="1032" y="-8" width="36" height="16" class="o1"/><rect x="1067.6" y="-8" width="36" height="16" class="o1"/><rect x="1103.2" y="-8" width="36" height="16" class="W"/><rect x="1138.8" y="-8" width="36" height="16" class="o1"/><rect x="1174.4" y="-8" width="35.6" height="16" class="W"/><rect x="1250" y="-5.5" width="47" height="11" class="bar"/><line x1="1269" x2="1326" class="eb"/></g>
<g transform="translate(0,830.4)"><text x="1026" y="4">MVP</text><rect x="1032" y="-8" width="36" height="16" class="b1"/><rect x="1067.6" y="-8" width="36" height="16" class="W"/><rect x="1103.2" y="-8" width="36" height="16" class="W"/><rect x="1138.8" y="-8" width="36" height="16" class="o1"/><rect x="1174.4" y="-8" width="35.6" height="16" class="o1"/><rect x="1250" y="-5.5" width="44" height="11" class="bar"/><line x1="1257" x2="1331" class="eb"/></g>
<g transform="translate(0,846.2)"><text x="1026" y="4">MetaSVM</text><rect x="1032" y="-8" width="36" height="16" class="W"/><rect x="1067.6" y="-8" width="36" height="16" class="W"/><rect x="1103.2" y="-8" width="36" height="16" class="W"/><rect x="1138.8" y="-8" width="36" height="16" class="W"/><rect x="1174.4" y="-8" width="35.6" height="16" class="b1"/><rect x="1250" y="-5.5" width="39" height="11" class="bar"/><line x1="1260" x2="1318" class="eb"/></g>
<g transform="translate(0,861.9)"><text x="1026" y="4">gMVP</text><rect x="1032" y="-8" width="36" height="16" class="b1"/><rect x="1067.6" y="-8" width="36" height="16" class="W"/><rect x="1103.2" y="-8" width="36" height="16" class="W"/><rect x="1138.8" y="-8" width="36" height="16" class="W"/><rect x="1174.4" y="-8" width="35.6" height="16" class="o1"/><rect x="1250" y="-5.5" width="38" height="11" class="bar"/><line x1="1255" x2="1322" class="eb"/></g>
</g>
</g>
</svg>
</body></html>
